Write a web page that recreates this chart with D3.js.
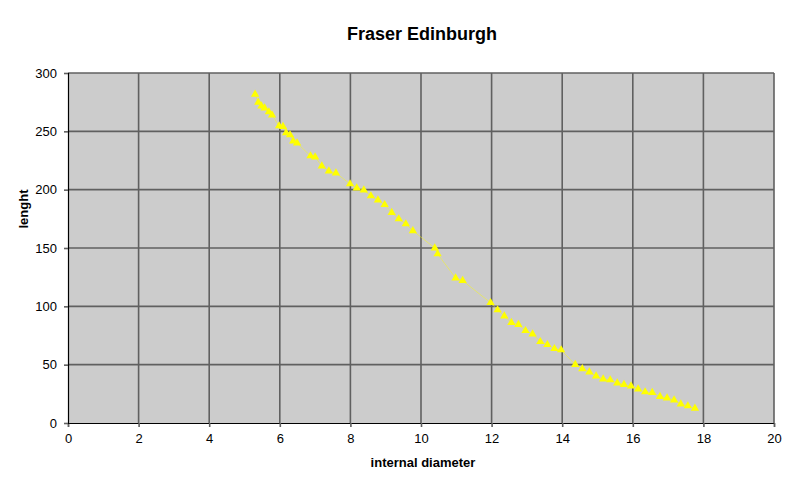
<!DOCTYPE html>
<html>
<head>
<meta charset="utf-8">
<script src="https://cdn.jsdelivr.net/npm/d3@7"></script>
<style>
  body { margin: 0; background: #fff; }
  svg { font-family: "Liberation Sans", Arial, sans-serif; }
</style>
</head>
<body>
<svg width="795" height="486"></svg>
<script>
// internal diameter (x) and lenght (y)
const diameter = [5.30, 5.39, 5.48, 5.57, 5.69, 5.78, 5.98, 6.09, 6.18, 6.29, 6.38, 6.49,
  6.87, 7.00, 7.19, 7.39, 7.59, 7.99, 8.18, 8.38, 8.58, 8.78, 8.97, 9.17, 9.37, 9.57, 9.77,
  10.39, 10.47, 10.98, 11.18,
  11.97, 12.17, 12.36, 12.56, 12.76, 12.96, 13.16, 13.38, 13.58, 13.78, 13.97,
  14.37, 14.57, 14.77, 14.96, 15.16, 15.36, 15.56, 15.75, 15.95, 16.15, 16.35, 16.55,
  16.77, 16.97, 17.17, 17.36, 17.56, 17.76];
const lenght = [281.7, 274.9, 271.7, 270, 266.6, 264, 254.6, 254, 248.6, 246.9, 241.7, 240,
  228.9, 228, 220.3, 216, 214.3, 204.9, 201.4, 199.7, 194.6, 191, 187.1, 180.3, 174.9, 170.6, 164.8,
  150, 144.9, 124.3, 122,
  103.1, 96.9, 91.7, 86, 84.3, 79.1, 76.3, 69.7, 67.1, 63.7, 62.6,
  50, 46.5, 43.7, 40.3, 37.7, 36.9, 34.3, 32.9, 31.7, 29.1, 26.6, 26,
  22.6, 21.4, 19.7, 16.3, 14.6, 12.6];
const xTicks = [0, 2, 4, 6, 8, 10, 12, 14, 16, 18, 20];
const yTicks = [0, 50, 100, 150, 200, 250, 300];

const svg = d3.select('svg');
const plotLeft = 68, plotRight = 774, plotTop = 73, plotBottom = 423;

const x = d3.scaleLinear().domain([0, 20]).range([plotLeft, plotRight]);
const y = d3.scaleLinear().domain([0, 300]).range([plotBottom, plotTop]);

const data = diameter.map(function (d, i) { return { x: d, y: lenght[i] }; });

// plot area
svg.append('rect')
    .attr('x', plotLeft).attr('y', plotTop)
    .attr('width', plotRight - plotLeft).attr('height', plotBottom - plotTop)
    .attr('fill', '#cccccc');

// grid
svg.append('g').selectAll('line')
    .data(xTicks.slice(1))
    .enter().append('line')
    .attr('x1', function (d) { return x(d); }).attr('x2', function (d) { return x(d); })
    .attr('y1', plotTop).attr('y2', plotBottom)
    .attr('stroke', '#606060').attr('stroke-width', 1.6);
svg.append('g').selectAll('line')
    .data(yTicks.slice(1))
    .enter().append('line')
    .attr('x1', plotLeft).attr('x2', plotRight)
    .attr('y1', function (d) { return y(d); }).attr('y2', function (d) { return y(d); })
    .attr('stroke', '#606060').attr('stroke-width', 1.6);

// axes
const xAxis = svg.append('g')
    .attr('transform', 'translate(0,' + plotBottom + ')')
    .call(d3.axisBottom(x).tickValues(xTicks).tickSize(4).tickPadding(7));
const yAxis = svg.append('g')
    .attr('transform', 'translate(' + plotLeft + ',0)')
    .call(d3.axisLeft(y).tickValues(yTicks).tickSize(4).tickPadding(7));
[xAxis, yAxis].forEach(function (a) {
    a.select('.domain').attr('stroke', '#000').attr('stroke-width', 1.2);
    a.selectAll('.tick line').attr('stroke', '#606060').attr('stroke-width', 1.6);
    a.selectAll('.tick text').attr('font-size', '13px').attr('fill', '#000')
        .attr('font-family', '"Liberation Sans", Arial, sans-serif');
});

// faint connecting line
svg.append('path')
    .datum(data)
    .attr('fill', 'none')
    .attr('stroke', '#ffff00')
    .attr('stroke-opacity', 0.45)
    .attr('stroke-width', 1)
    .attr('d', d3.line().x(function (d) { return x(d.x); }).y(function (d) { return y(d.y); }));

// markers
svg.append('g').selectAll('path')
    .data(data)
    .enter().append('path')
    .attr('transform', function (d) { return 'translate(' + x(d.x) + ',' + y(d.y) + ')'; })
    .attr('d', d3.symbol().type(d3.symbolTriangle).size(30))
    .attr('fill', '#ffff00');

// titles
svg.append('text')
    .attr('x', 422).attr('y', 40)
    .attr('text-anchor', 'middle')
    .attr('font-size', '18px').attr('font-weight', 'bold')
    .text('Fraser Edinburgh');
svg.append('text')
    .attr('x', 423).attr('y', 467)
    .attr('text-anchor', 'middle')
    .attr('font-size', '13px').attr('font-weight', 'bold')
    .text('internal diameter');
svg.append('text')
    .attr('transform', 'translate(28,209) rotate(-90)')
    .attr('text-anchor', 'middle')
    .attr('font-size', '13px').attr('font-weight', 'bold')
    .text('lenght');
</script>
</body>
</html>
